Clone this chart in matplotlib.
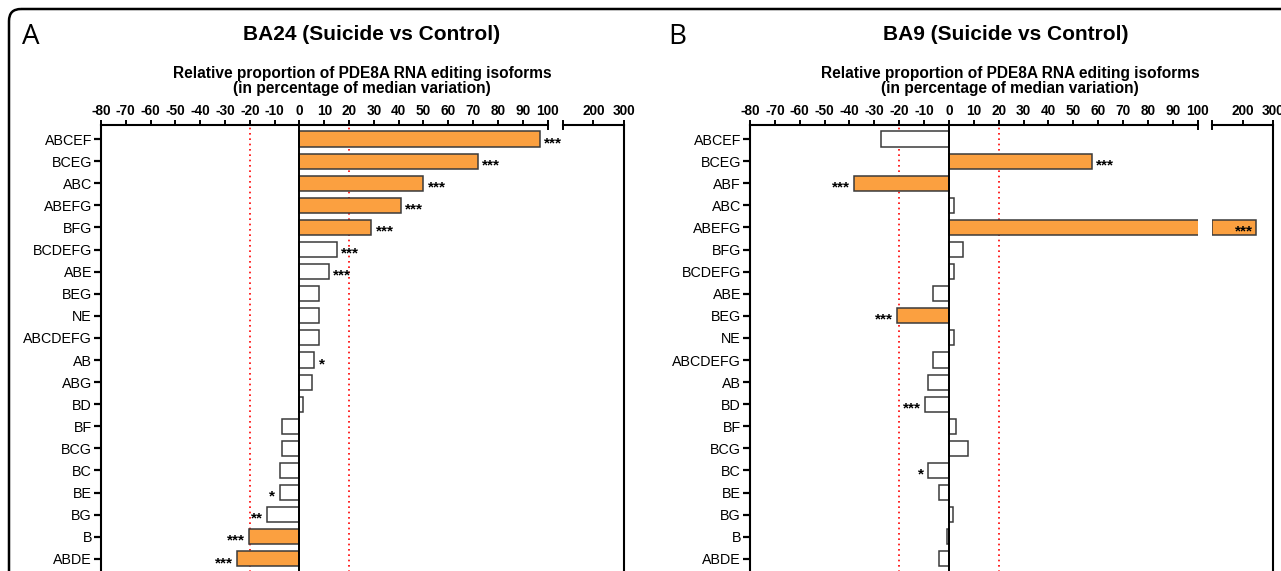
import matplotlib
matplotlib.use("Agg")
import matplotlib.pyplot as plt
import matplotlib.transforms as mtransforms
from matplotlib.patches import FancyBboxPatch
import numpy as np

plt.rcParams['font.family'] = ['Liberation Sans', 'DejaVu Sans']

# ---------------- data ----------------
A_labels = ["ABCEF", "BCEG", "ABC", "ABEFG", "BFG", "BCDEFG", "ABE", "BEG", "NE",
            "ABCDEFG", "AB", "ABG", "BD", "BF", "BCG", "BC", "BE", "BG", "B", "ABDE"]
A_values = [97, 72, 50, 41, 29, 15, 12, 8, 8, 8, 6, 5, 1.6, -7, -7, -8, -8, -13, -20.2, -25]
A_sig = ["***", "***", "***", "***", "***", "***", "***", "", "", "",
         "*", "", "", "", "", "", "*", "**", "***", "***"]
A_highlight = [1, 1, 1, 1, 1, 0, 0, 0, 0, 0, 0, 0, 0, 0, 0, 0, 0, 0, 1, 1]

B_labels = ["ABCEF", "BCEG", "ABF", "ABC", "ABEFG", "BFG", "BCDEFG", "ABE", "BEG", "NE",
            "ABCDEFG", "AB", "BD", "BF", "BCG", "BC", "BE", "BG", "B", "ABDE"]
B_values = [-27.5, 57.5, -38, 2, 244, 5.5, 2, -6.5, -21, 2,
            -6.5, -8.5, -9.5, 3, 7.5, -8.5, -4, 1.5, -0.7, -4]
B_sig = ["", "***", "***", "", "***", "", "", "", "***", "",
         "", "", "***", "", "", "*", "", "", "", ""]
B_highlight = [0, 1, 1, 0, 1, 0, 0, 0, 1, 0, 0, 0, 0, 0, 0, 0, 0, 0, 0, 0]

main_ticks = list(range(-80, 101, 10))
main_ticklabels = [str(t) for t in main_ticks]
break_ticks = [200, 300]
break_ticklabels = ["200", "300"]
threshold = 20

titles = ["BA24 (Suicide vs Control)", "BA9 (Suicide vs Control)"]
subtitle = "Relative proportion of PDE8A RNA editing isoforms\n(in percentage of median variation)"
panel_letters = ["A", "B"]

# ---------------- layout ----------------
W, H = 1281, 571
fig = plt.figure(figsize=(W / 100, H / 100), dpi=100)

ORANGE = "#FBA040"
EDGE = "#3a3a3a"

# background frame
bg = fig.add_axes([0, 0, 1, 1])
bg.set_xlim(0, W)
bg.set_ylim(H, 0)
bg.axis("off")
bg.add_patch(FancyBboxPatch((9, 9), W + 40, H + 40,
                            boxstyle="round,pad=0,rounding_size=12",
                            fill=False, lw=1.8, ec="black"))


def pos(x0, x1, ytop, ybot):
    return [x0 / W, 1 - ybot / H, (x1 - x0) / W, (ybot - ytop) / H]


row0 = 139.0
rowstep = 22.1
ytop_px = 125.0
ylim_top = -(row0 - ytop_px) / rowstep
ylim_bot = 20.6
ybot_px = row0 + ylim_bot * rowstep


def panel(x_left, x_100, x_seg2, x_right, labels, values, sig, hl):
    axm = fig.add_axes(pos(x_left, x_100, ytop_px, ybot_px))
    axs = fig.add_axes(pos(x_seg2, x_right, ytop_px, ybot_px), sharey=axm)
    for ax in (axm, axs):
        ax.set_facecolor("none")
        ax.xaxis.tick_top()
        ax.tick_params(axis="x", direction="out", length=3.5, width=1.4,
                       pad=1.5, labelsize=9.8)
        ax.spines["bottom"].set_visible(False)
        ax.spines["top"].set_linewidth(1.5)
    axm.spines["right"].set_visible(False)
    axm.spines["left"].set_linewidth(1.5)
    axs.spines["left"].set_visible(False)
    axs.spines["right"].set_linewidth(1.5)

    n = len(labels)
    y = np.arange(n)
    vals = np.array(values, dtype=float)
    colors = [ORANGE if h else "white" for h in hl]

    axm.barh(y, vals, height=0.68, color=colors, edgecolor=EDGE, linewidth=1.1, zorder=2)
    big = vals > 100
    axs.barh(y[big], vals[big] - 100, left=100, height=0.68,
             color=[c for c, b in zip(colors, big) if b], edgecolor=EDGE,
             linewidth=1.1, zorder=2)

    axm.set_xlim(-80, 100)
    axs.set_xlim(100, 300)
    axm.set_ylim(ylim_bot, ylim_top)

    axm.set_xticks(main_ticks)
    axm.set_xticklabels(main_ticklabels, fontweight="bold")
    axs.set_xticks(break_ticks)
    axs.set_xticklabels(break_ticklabels, fontweight="bold")

    axm.set_yticks(y)
    axm.set_yticklabels(labels, fontsize=10.3)
    axm.tick_params(axis="y", direction="out", length=5, width=1.6, pad=1.5)
    axs.tick_params(axis="y", left=False, labelleft=False)

    axm.axvline(0, color="black", lw=1.4, zorder=3)
    for t in (-threshold, threshold):
        axm.axvline(t, color="red", lw=1.2, ls=(0, (1, 2.2)), zorder=1)

    # break caps
    d = 4.0 / (ybot_px - ytop_px)
    trm = mtransforms.blended_transform_factory(axm.transData, axm.transAxes)
    trs = mtransforms.blended_transform_factory(axs.transData, axs.transAxes)
    axm.plot([100, 100], [1 - d, 1 + d], transform=trm, color="black", lw=1.4, clip_on=False)
    axs.plot([100, 100], [1 - d, 1 + d], transform=trs, color="black", lw=1.4, clip_on=False)

    # significance stars
    for i, (v, s) in enumerate(zip(vals, sig)):
        if not s:
            continue
        kw = dict(textcoords="offset points", va="center", fontsize=11,
                  fontweight="bold", zorder=4)
        if v > 100:
            axs.annotate(s, (v, i), xytext=(-2, -3), ha="right", **kw)
        elif v >= 0:
            axm.annotate(s, (v, i), xytext=(3, -3), ha="left", **kw)
        else:
            axm.annotate(s, (v, i), xytext=(-3, -3), ha="right", **kw)
    return axm, axs


panel(101, 547.5, 562.7, 624, A_labels, A_values, A_sig, A_highlight)
panel(750, 1197.7, 1212, 1273, B_labels, B_values, B_sig, B_highlight)

# texts
for (lx, letter, tx, title, sx) in [(22, panel_letters[0], 372, titles[0], 362),
                                    (668, panel_letters[1], 1006, titles[1], 1010)]:
    fig.text(lx / W, 1 - 37 / H, letter, fontsize=20, ha="left", va="center",
             family=["Open Sans", "DejaVu Sans"])
    fig.text(tx / W, 1 - 35 / H, title, fontsize=15, fontweight="bold",
             ha="center", va="center")
    fig.text(sx / W, 1 - 81 / H, subtitle, fontsize=11.2, fontweight="bold",
             ha="center", va="center", linespacing=1.05)

fig.savefig("out.png", dpi=100)
